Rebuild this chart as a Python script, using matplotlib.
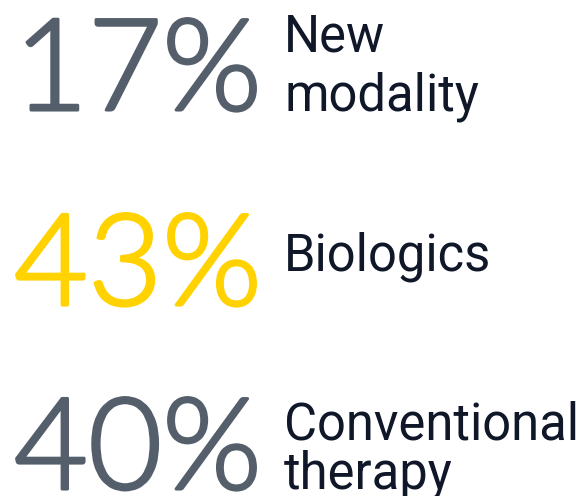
import matplotlib
matplotlib.use("Agg")
import matplotlib.pyplot as plt
from matplotlib import font_manager
import matplotlib.patheffects as pe
import os

values = [17, 43, 40]
labels = ["New\nmodality", "Biologics", "Conventional\ntherapy"]
value_colors = ["#555f6b", "#ffd200", "#555f6b"]
label_color = "#0f1729"

light_path = None
for f in font_manager.fontManager.ttflist:
    if os.path.basename(f.fname) == "Lato-Light.ttf":
        light_path = f.fname
        break
if light_path:
    num_font = font_manager.FontProperties(fname=light_path, size=92)
else:
    num_font = font_manager.FontProperties(family="Lato", weight="normal", size=92)

W, H = 584, 496
fig = plt.figure(figsize=(W / 100, H / 100), dpi=100)
ax = fig.add_axes([0, 0, 1, 1])
ax.set_xlim(0, W)
ax.set_ylim(H, 0)
ax.axis("off")

num_baselines = [110, 305, 489]
label_baselines = [[52, 110], [271], [439, 488]]

for v, lab, c, nb, lbs in zip(values, labels, value_colors, num_baselines, label_baselines):
    ax.text(14, nb, f"{v}%", fontproperties=num_font, color=c,
            ha="left", va="baseline",
            path_effects=[pe.Stroke(linewidth=2.2, foreground=c), pe.Normal()])
    for line, lb in zip(lab.split("\n"), lbs):
        ax.text(284, lb, line, fontsize=36.5, color=label_color, family="Roboto",
                ha="left", va="baseline")

fig.savefig("out.png", dpi=100)
